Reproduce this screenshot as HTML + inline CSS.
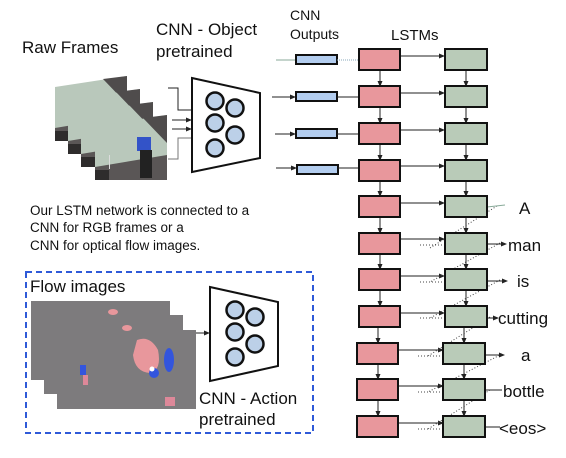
<!DOCTYPE html>
<html><head><style>
html,body{margin:0;padding:0;background:#fff;}
svg{display:block;}
text{font-family:"Liberation Sans",sans-serif;fill:#111;}
</style></head><body>
<svg width="566" height="458" viewBox="0 0 566 458" xmlns="http://www.w3.org/2000/svg">
<defs>
<marker id="ar" markerWidth="6" markerHeight="6" refX="5" refY="3" orient="auto"><path d="M0,0.5 L6,3 L0,5.5z" fill="#222"/></marker>
<g id="fr">
<polygon points="0,11 72,0 72,65 0,65" fill="#b9c8bb"/>
<polygon points="48,3 72,0 72,28" fill="#4f4c4c"/>
<polygon points="0,52 72,40 72,65 0,65" fill="#5a5656"/>
<rect x="0" y="55" width="14" height="10" fill="#2e2c2c"/>
<rect x="14" y="40" width="1" height="14" fill="#ddd"/>
</g>
</defs>
<text x="22" y="53" font-size="17">Raw Frames</text>
<text x="156" y="35" font-size="17">CNN - Object</text>
<text x="156" y="57" font-size="17">pretrained</text>
<text x="290" y="20" font-size="14">CNN</text>
<text x="290" y="39" font-size="14">Outputs</text>
<text x="391" y="40" font-size="15">LSTMs</text>

<!-- raw frames -->
<use href="#fr" x="55" y="76"/>
<use href="#fr" x="68" y="89"/>
<use href="#fr" x="81" y="102"/>
<use href="#fr" x="95" y="115"/>
<rect x="137" y="137" width="14" height="14" fill="#3353c8"/>
<rect x="140" y="150" width="12" height="28" fill="#222"/>
<!-- arrows into CNN -->
<g stroke="#222" stroke-width="1" fill="none">
<polyline points="168,88 178,88 178,110 192,110"/>
<line x1="172" y1="120" x2="191" y2="120" marker-end="url(#ar)"/>
<line x1="172" y1="129" x2="191" y2="129" marker-end="url(#ar)"/>
<polyline points="168,159 178,159 178,138 192,138" stroke="#777"/>
</g>
<polygon points="192,78 260,93 260,158 192,172" fill="#fff" stroke="#111" stroke-width="2"/>
<g fill="#bcd0e8" stroke="#111" stroke-width="2.5">
<circle cx="215" cy="101" r="8.5"/><circle cx="235" cy="108" r="8.5"/>
<circle cx="215" cy="123" r="8.5"/><circle cx="235" cy="135" r="8.5"/>
<circle cx="215" cy="148" r="8.5"/>
</g>
<!-- CNN outputs -->
<g stroke="#222" stroke-width="1">
<line x1="276" y1="60" x2="295" y2="60" stroke="#8a9"/>
<line x1="272" y1="97" x2="295" y2="97" marker-end="url(#ar)"/>
<line x1="275" y1="134" x2="295" y2="134" marker-end="url(#ar)"/>
<line x1="276" y1="168" x2="296" y2="168" marker-end="url(#ar)"/>
</g>
<g fill="#b3cdef" stroke="#111" stroke-width="2">
<rect x="296" y="55" width="41" height="9"/>
<rect x="296" y="92" width="41" height="9"/>
<rect x="296" y="129" width="41" height="9"/>
<rect x="297" y="165" width="41" height="9"/>
</g>
<g stroke="#222" stroke-width="1">
<line x1="337" y1="60" x2="358" y2="60" stroke="#8ab" stroke-dasharray="1,1"/>
<line x1="337" y1="97" x2="358" y2="97"/>
<line x1="337" y1="134" x2="358" y2="134"/>
<line x1="338" y1="168" x2="358" y2="168"/>
</g>

<!-- LSTM grid -->
<g>
<g stroke="#222" stroke-width="1" fill="none">
<line x1="400" y1="56" x2="444" y2="56" marker-end="url(#ar)"/>
<line x1="400" y1="93" x2="444" y2="93" marker-end="url(#ar)"/>
<line x1="400" y1="130" x2="444" y2="130" marker-end="url(#ar)"/>
<line x1="400" y1="166" x2="444" y2="166" marker-end="url(#ar)"/>
<line x1="400" y1="203" x2="444" y2="203" marker-end="url(#ar)"/>
<line x1="400" y1="239" x2="444" y2="239" marker-end="url(#ar)"/>
<line x1="400" y1="276" x2="444" y2="276" marker-end="url(#ar)"/>
<line x1="400" y1="313" x2="444" y2="313" marker-end="url(#ar)"/>
<line x1="398" y1="350" x2="443" y2="350" marker-end="url(#ar)"/>
<line x1="398" y1="386" x2="443" y2="386" marker-end="url(#ar)"/>
<line x1="398" y1="423" x2="443" y2="423" marker-end="url(#ar)"/>
<g stroke-dasharray="1,2" stroke="#444">
<line x1="420" y1="245" x2="444" y2="245"/>
<line x1="420" y1="282" x2="444" y2="282"/>
<line x1="420" y1="318" x2="444" y2="318"/>
<line x1="418" y1="356" x2="443" y2="356"/>
<line x1="418" y1="392" x2="443" y2="392"/>
<line x1="418" y1="429" x2="443" y2="429"/>
<line x1="497" y1="206" x2="430" y2="248"/>
<line x1="500" y1="243" x2="430" y2="282"/>
<line x1="500" y1="280" x2="430" y2="318"/>
<line x1="490" y1="317" x2="428" y2="356"/>
<line x1="502" y1="354" x2="428" y2="392"/>
<line x1="490" y1="390" x2="428" y2="429"/>
</g>
<line x1="380" y1="70" x2="380" y2="86" marker-end="url(#ar)"/>
<line x1="380" y1="107" x2="380" y2="123" marker-end="url(#ar)"/>
<line x1="380" y1="144" x2="380" y2="160" marker-end="url(#ar)"/>
<line x1="380" y1="181" x2="380" y2="196" marker-end="url(#ar)"/>
<line x1="380" y1="217" x2="380" y2="233" marker-end="url(#ar)"/>
<line x1="380" y1="254" x2="380" y2="269" marker-end="url(#ar)"/>
<line x1="380" y1="290" x2="380" y2="306" marker-end="url(#ar)"/>
<line x1="378" y1="327" x2="378" y2="343" marker-end="url(#ar)"/>
<line x1="378" y1="364" x2="378" y2="379" marker-end="url(#ar)"/>
<line x1="378" y1="400" x2="378" y2="416" marker-end="url(#ar)"/>
<line x1="466" y1="70" x2="466" y2="86" marker-end="url(#ar)"/>
<line x1="466" y1="107" x2="466" y2="123" marker-end="url(#ar)"/>
<line x1="466" y1="144" x2="466" y2="160" marker-end="url(#ar)"/>
<line x1="466" y1="181" x2="466" y2="196" marker-end="url(#ar)"/>
<line x1="466" y1="217" x2="466" y2="233" marker-end="url(#ar)"/>
<line x1="466" y1="254" x2="466" y2="269" marker-end="url(#ar)"/>
<line x1="466" y1="290" x2="466" y2="306" marker-end="url(#ar)"/>
<line x1="464" y1="327" x2="464" y2="343" marker-end="url(#ar)"/>
<line x1="464" y1="364" x2="464" y2="379" marker-end="url(#ar)"/>
<line x1="464" y1="400" x2="464" y2="416" marker-end="url(#ar)"/>
<line x1="487" y1="207" x2="505" y2="205" stroke="#8a9"/>
<line x1="487" y1="244" x2="506" y2="244" marker-end="url(#ar)"/>
<line x1="487" y1="281" x2="507" y2="281" marker-end="url(#ar)"/>
<line x1="487" y1="318" x2="498" y2="318" marker-end="url(#ar)"/>
<line x1="485" y1="355" x2="504" y2="355" marker-end="url(#ar)"/>
<line x1="485" y1="390" x2="502" y2="390"/>
<line x1="485" y1="427" x2="500" y2="427"/>
</g>
<g fill="#e8979c" stroke="#111" stroke-width="2">
<rect x="359" y="49" width="41" height="21"/><rect x="359" y="86" width="41" height="21"/>
<rect x="359" y="123" width="41" height="21"/><rect x="359" y="160" width="41" height="21"/>
<rect x="359" y="196" width="41" height="21"/><rect x="359" y="233" width="41" height="21"/>
<rect x="359" y="269" width="41" height="21"/><rect x="359" y="306" width="41" height="21"/>
<rect x="357" y="343" width="41" height="21"/><rect x="357" y="379" width="41" height="21"/>
<rect x="357" y="416" width="41" height="21"/>
</g>
<g fill="#b9cbb8" stroke="#111" stroke-width="2">
<rect x="445" y="49" width="42" height="21"/><rect x="445" y="86" width="42" height="21"/>
<rect x="445" y="123" width="42" height="21"/><rect x="445" y="160" width="42" height="21"/>
<rect x="445" y="196" width="42" height="21"/><rect x="445" y="233" width="42" height="21"/>
<rect x="445" y="269" width="42" height="21"/><rect x="445" y="306" width="42" height="21"/>
<rect x="443" y="343" width="42" height="21"/><rect x="443" y="379" width="42" height="21"/>
<rect x="443" y="416" width="42" height="21"/>
</g>
</g>
<g font-size="17">
<text x="519" y="214">A</text>
<text x="508" y="251">man</text>
<text x="517" y="287">is</text>
<text x="498" y="324">cutting</text>
<text x="521" y="361">a</text>
<text x="503" y="397">bottle</text>
<text x="499" y="434">&lt;eos&gt;</text>
</g>

<g font-size="13.5">
<text x="30" y="215">Our LSTM network is connected to a</text>
<text x="30" y="232">CNN for RGB frames or a</text>
<text x="30" y="250">CNN for optical flow images.</text>
</g>

<!-- flow box -->
<rect x="26" y="272" width="287" height="161" fill="none" stroke="#2f5ad8" stroke-width="2" stroke-dasharray="6,4"/>
<text x="30" y="292" font-size="17">Flow images</text>
<rect x="31" y="301" width="139" height="79" fill="#7d7b7d"/>
<rect x="44" y="315" width="139" height="79" fill="#7d7b7d"/>
<rect x="57" y="330" width="139" height="79" fill="#7d7b7d"/>
<ellipse cx="113" cy="312" rx="5" ry="3" fill="#e8979c"/>
<ellipse cx="127" cy="328" rx="5" ry="3" fill="#e8979c"/>
<path d="M137,340 Q150,335 158,350 Q162,370 150,373 Q135,372 133,355z" fill="#e8979c"/>
<ellipse cx="169" cy="360" rx="5" ry="12" fill="#3355dd"/>
<circle cx="154" cy="373" r="5" fill="#3355dd"/>
<circle cx="152" cy="369" r="2.5" fill="#fff"/>
<rect x="80" y="365" width="6" height="10" fill="#3355dd"/>
<rect x="83" y="375" width="5" height="10" fill="#d89"/>
<rect x="165" y="397" width="10" height="9" fill="#d89"/>
<line x1="196" y1="333" x2="209" y2="333" stroke="#222" stroke-width="1" marker-end="url(#ar)"/>
<polygon points="210,287 278,302 278,366 210,381" fill="#fff" stroke="#111" stroke-width="2"/>
<g fill="#bcd0e8" stroke="#111" stroke-width="2.5">
<circle cx="235" cy="310" r="8.5"/><circle cx="255" cy="317" r="8.5"/>
<circle cx="235" cy="332" r="8.5"/><circle cx="255" cy="344" r="8.5"/>
<circle cx="235" cy="357" r="8.5"/>
</g>
<text x="199" y="404" font-size="17">CNN - Action</text>
<text x="199" y="425" font-size="17">pretrained</text>
</svg>
</body></html>
